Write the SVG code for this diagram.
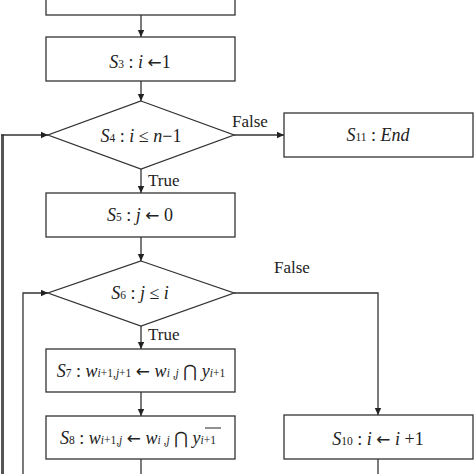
<svg xmlns="http://www.w3.org/2000/svg" width="474" height="474" viewBox="0 0 474 474">
<style>
.box{fill:#fff;stroke:#333;stroke-width:1.3}
.ln{fill:none;stroke:#333;stroke-width:1.3}
.t{font-family:"Liberation Serif","Times New Roman",serif;font-size:18px;fill:#222;text-anchor:middle}
.m{font-family:"Liberation Serif","Times New Roman",serif;font-size:18px;fill:#222;text-anchor:middle}
.i{font-style:italic}
.sub{font-size:11.5px}
.ar{font-family:"DejaVu Sans",sans-serif;font-size:17px}
.cap{font-family:"DejaVu Sans",sans-serif;font-size:17px}
.lab{font-family:"Liberation Serif","Times New Roman",serif;font-size:17px;fill:#222}
</style>
<defs>
<marker id="ah" markerWidth="8" markerHeight="8" refX="7" refY="4" orient="auto" markerUnits="userSpaceOnUse">
<path d="M0,0.8 L7,4 L0,7.2 Z" fill="#222"/>
</marker>
</defs>
<rect width="474" height="474" fill="#fff"/>
<g id="connectors">
<line class="ln" x1="141" y1="15" x2="141" y2="37" marker-end="url(#ah)"/>
<line class="ln" x1="141" y1="81" x2="141" y2="101" marker-end="url(#ah)"/>
<line class="ln" x1="234" y1="135" x2="284" y2="135" marker-end="url(#ah)"/>
<line class="ln" x1="141" y1="169" x2="141" y2="193" marker-end="url(#ah)"/>
<line class="ln" x1="141" y1="237" x2="141" y2="261" marker-end="url(#ah)"/>
<line class="ln" x1="141" y1="326" x2="141" y2="349" marker-end="url(#ah)"/>
<line class="ln" x1="141" y1="392" x2="141" y2="416" marker-end="url(#ah)"/>
<line class="ln" x1="141" y1="459" x2="141" y2="474"/>
<polyline class="ln" points="234,293 378,293 378,415" marker-end="url(#ah)"/>
<line class="ln" x1="378" y1="459" x2="378" y2="474"/>
<line stroke="#555" stroke-width="3" x1="2.5" y1="474" x2="2.5" y2="134.4"/>
<polyline class="ln" points="1,135 48,135" marker-end="url(#ah)"/>
<polyline class="ln" points="23,474 23,293 48,293" marker-end="url(#ah)"/>
<text class="lab" x="232" y="127">False</text>
<text class="lab" x="148" y="186">True</text>
<text class="lab" x="274" y="273">False</text>
<text class="lab" x="148" y="340">True</text>
</g>
<g id="s2">
<rect class="box" x="46" y="-30" width="189" height="45"/>
</g>
<g id="s3">
<rect class="box" x="46" y="37" width="189" height="44"/>
<text class="t" x="140" y="68"><tspan class="i">S</tspan><tspan class="sub">3</tspan> : <tspan class="i">i</tspan> <tspan class="ar">←</tspan>1</text>
</g>
<g id="s4">
<polygon class="box" points="141,101 234,135 141,169 48,135"/>
<text class="t" x="141" y="142"><tspan class="i">S</tspan><tspan class="sub">4</tspan> : <tspan class="i">i</tspan> ≤ <tspan class="i">n</tspan>−1</text>
</g>
<g id="s11">
<rect class="box" x="284" y="113" width="189" height="44"/>
<text class="t" x="378" y="141"><tspan class="i">S</tspan><tspan class="sub">11</tspan> : <tspan class="i">End</tspan></text>
</g>
<g id="s5">
<rect class="box" x="46" y="193" width="189" height="44"/>
<text class="t" x="140" y="221"><tspan class="i">S</tspan><tspan class="sub">5</tspan> : <tspan class="i">j</tspan> <tspan class="ar">←</tspan> 0</text>
</g>
<g id="s6">
<polygon class="box" points="141,261 234,293 141,326 48,293"/>
<text class="m" x="140" y="299"><tspan class="i">S</tspan><tspan class="sub">6</tspan> : <tspan class="i">j</tspan> ≤ <tspan class="i">i</tspan></text>
</g>
<g id="s7">
<rect class="box" x="46" y="349" width="189" height="43"/>
<text class="m" x="141" y="377"><tspan class="i">S</tspan><tspan class="sub">7</tspan> : <tspan class="i">w</tspan><tspan class="sub"><tspan class="i">i</tspan>+1,<tspan class="i">j</tspan>+1</tspan> <tspan class="ar">←</tspan> <tspan class="i">w</tspan><tspan class="sub"><tspan class="i">i</tspan> ,<tspan class="i">j</tspan></tspan> <tspan class="cap">⋂</tspan> <tspan class="i">y</tspan><tspan class="sub"><tspan class="i">i</tspan>+1</tspan></text>
</g>
<g id="s8">
<rect class="box" x="46" y="416" width="189" height="43"/>
<text class="m" x="138" y="444"><tspan class="i">S</tspan><tspan class="sub">8</tspan> : <tspan class="i">w</tspan><tspan class="sub"><tspan class="i">i</tspan>+1,<tspan class="i">j</tspan></tspan> <tspan class="ar">←</tspan> <tspan class="i">w</tspan><tspan class="sub"><tspan class="i">i</tspan> ,<tspan class="i">j</tspan></tspan> <tspan class="cap">⋂</tspan> <tspan class="i">y</tspan><tspan class="sub"><tspan class="i">i</tspan>+1</tspan></text>
<line id="ovl" x1="205" y1="428" x2="221" y2="428" stroke="#222" stroke-width="1"/>
</g>
<g id="s10">
<rect class="box" x="284" y="415" width="189" height="44"/>
<text class="t" x="378" y="445"><tspan class="i">S</tspan><tspan class="sub">10</tspan> : <tspan class="i">i</tspan> <tspan class="ar">←</tspan> <tspan class="i">i</tspan> +1</text>
</g>
</svg>
